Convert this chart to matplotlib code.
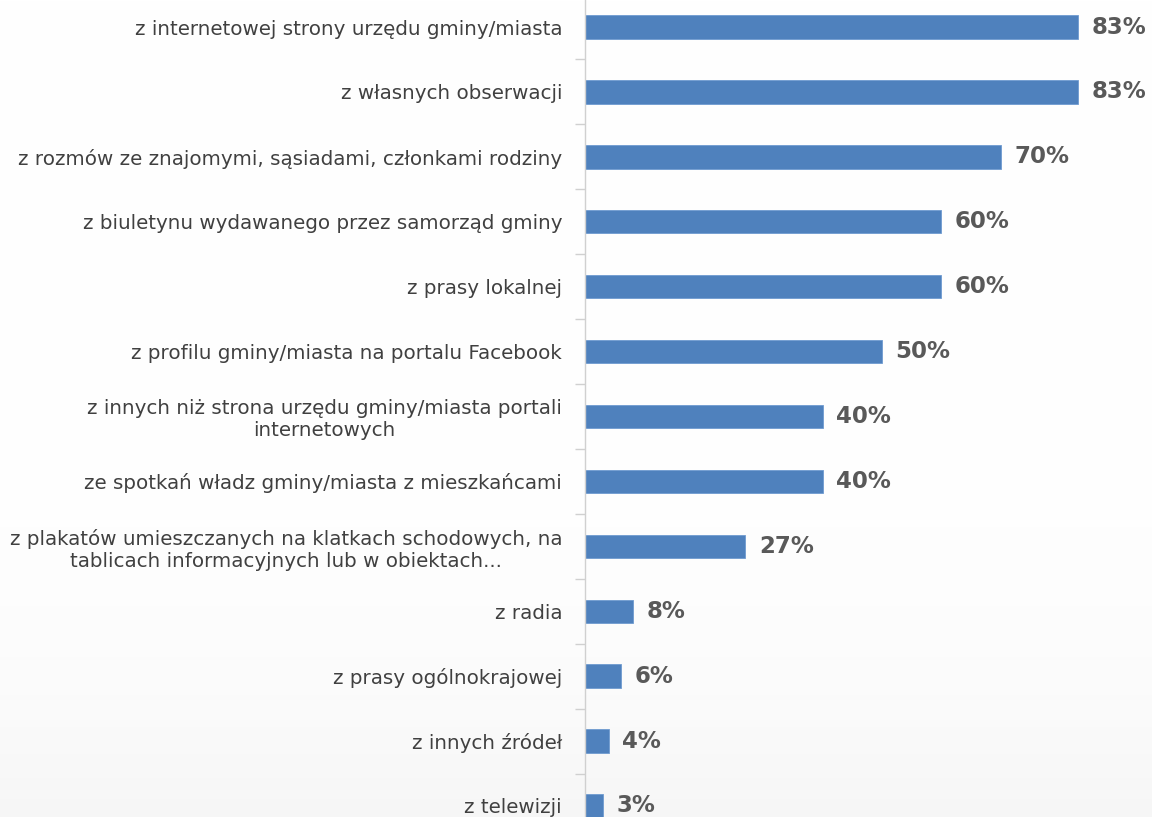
import matplotlib.pyplot as plt
import numpy as np

labels = [
    "z internetowej strony urzędu gminy/miasta",
    "z własnych obserwacji",
    "z rozmów ze znajomymi, sąsiadami, członkami rodziny",
    "z biuletynu wydawanego przez samorząd gminy",
    "z prasy lokalnej",
    "z profilu gminy/miasta na portalu Facebook",
    "z innych niż strona urzędu gminy/miasta portali\ninternetowych",
    "ze spotkań władz gminy/miasta z mieszkańcami",
    "z plakatów umieszczanych na klatkach schodowych, na\ntablicach informacyjnych lub w obiektach...",
    "z radia",
    "z prasy ogólnokrajowej",
    "z innych źródeł",
    "z telewizji",
]
values = [83, 83, 70, 60, 60, 50, 40, 40, 27, 8, 6, 4, 3]

bar_color = "#4F81BD"
text_color = "#404040"

fig = plt.figure(figsize=(11.52, 8.17), dpi=100)

# faint grey shading towards the bottom of the slide
bg = fig.add_axes([0, 0, 1, 1], zorder=-10)
shade = 1 - 0.035 * np.linspace(0, 1, 817) ** 5
img = np.repeat(shade[:, None, None], 3, axis=2)
bg.imshow(img, aspect="auto", extent=[0, 1, 0, 1], origin="upper", interpolation="bilinear")
bg.axis("off")

ax = fig.add_axes([585 / 1152, 0, 1 - 585 / 1152, 1])
ax.patch.set_alpha(0)
pos = np.arange(len(labels))
ax.barh(pos, values, height=0.36, color=bar_color, edgecolor="#6f9bd0", linewidth=0.6)

ax.set_yticks(pos)
ax.set_yticklabels(labels, fontsize=14.3, color=text_color)
for t in ax.get_yticklabels():
    t.set_multialignment("center")
ax.set_yticks(pos + 0.5, minor=True)
ax.tick_params(axis="y", which="major", length=0, pad=16.5)
ax.tick_params(axis="y", which="minor", length=7, color="#d0d0d0", width=1)
ax.set_xticks([])

# limits after the ticks, so the minor ticks do not stretch them
ax.set_xlim(0, 95.45)
ax.set_ylim(12.17, -0.416)

for s in ["top", "right", "bottom"]:
    ax.spines[s].set_visible(False)
ax.spines["left"].set_color("#d0d0d0")
ax.spines["left"].set_linewidth(1)

for p, v in zip(pos, values):
    ax.text(v + 2.3, p, f"{v}%", va="center", ha="left", fontsize=16.5, color="#595959",
            fontweight="bold")

fig.savefig("out.png", dpi=100)
